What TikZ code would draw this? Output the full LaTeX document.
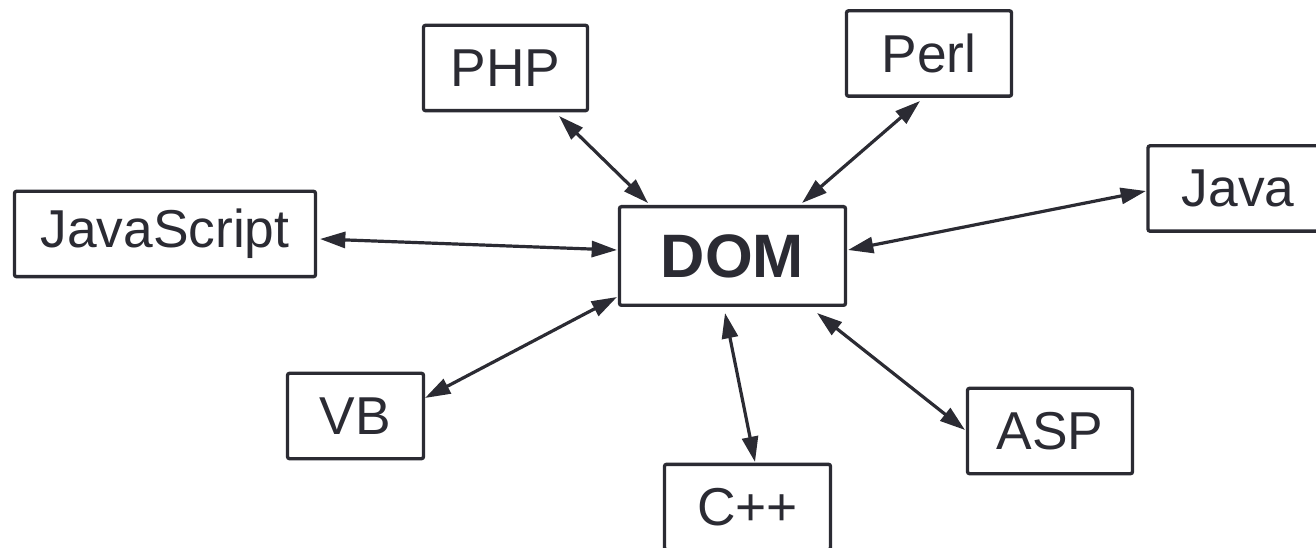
\documentclass[tikz,border=0pt]{standalone}
\usepackage{fontspec}
\setmainfont{Liberation Sans}
\usetikzlibrary{arrows.meta,calc}
\definecolor{ink}{RGB}{43,43,51}

\begin{document}
\begin{tikzpicture}[
        x=0.75pt, y=-0.75pt,
        lang/.style={draw=ink, line width=2.5pt, rounded corners=1.5pt, fill=white,
            text=ink, font=\fontsize{40}{48}\selectfont, inner sep=0pt,
            minimum width=#1*0.75pt, minimum height=64pt},
        core/.style={lang=226, minimum height=74pt, font=\fontsize{46}{54}\selectfont\bfseries},
        link/.style={draw=ink, line width=2.4pt,
            {Triangle[length=19pt,width=12pt]}-{Triangle[length=19pt,width=12pt]}}]
    \useasboundingbox (0,0) rectangle (1316,548);
    % centre block and the languages round it
    \node[core]     (dom)  at (732.5,256) {DOM};
    \node[lang=164] (php)  at (505.5,68)  {PHP};
    \node[lang=165] (perl) at (929,53.5)  {Perl};
    \node[lang=180] (java) at (1238,188.5) {Java};
    \node[lang=301] (js)   at (165,234)   {JavaScript};
    \node[lang=136] (vb)   at (355.5,416) {VB};
    \node[lang=165] (asp)  at (1050,431)  {ASP};
    \node[lang=166] (cpp)  at (747.5,507) {C++};
    % two-way links
    \draw[link] ($(php)+(53.5,48)$)   -- ($(dom)+(-84.5,-53)$);
    \draw[link] ($(perl)+(-9,47.5)$)  -- ($(dom)+(69.5,-53)$);
    \draw[link] ($(java)+(-92,2.5)$)  -- ($(dom)+(115.5,-6)$);
    \draw[link] ($(js)+(155,5)$)      -- ($(dom)+(-115.5,-6)$);
    \draw[link] ($(vb)+(69.5,-18)$)   -- ($(dom)+(-115.5,41)$);
    \draw[link] ($(cpp)+(7.5,-45)$)   -- ($(dom)+(-7.5,57)$);
    \draw[link] ($(asp)+(-85,-1)$)    -- ($(dom)+(84.5,57)$);
\end{tikzpicture}
\end{document}
